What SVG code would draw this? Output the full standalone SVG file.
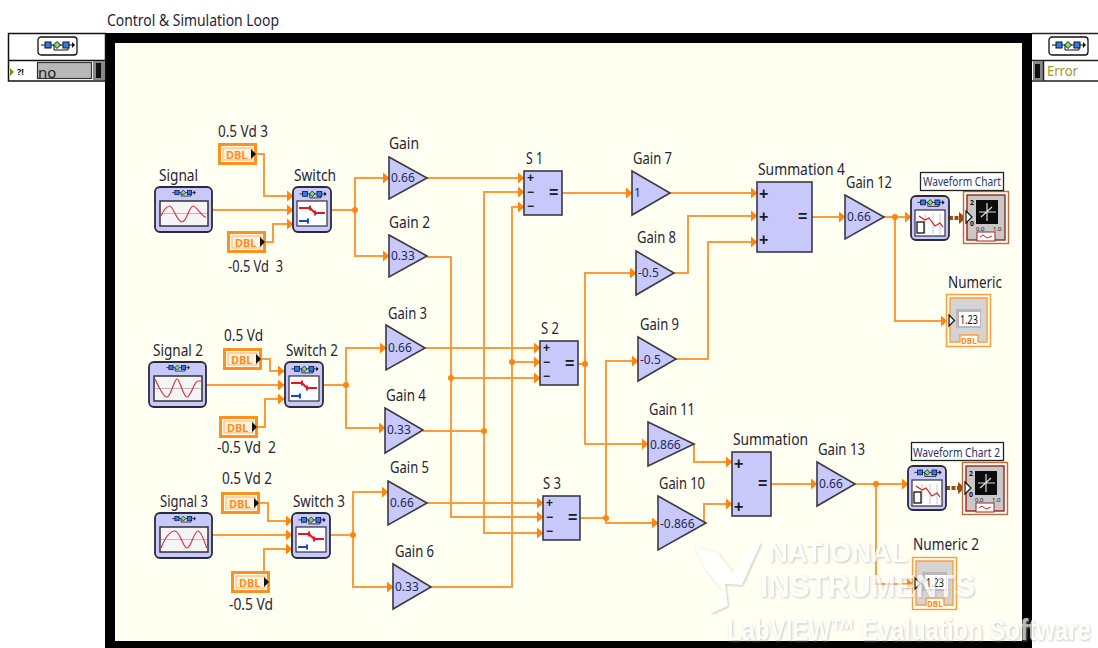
<svg xmlns="http://www.w3.org/2000/svg" width="1098" height="648" viewBox="0 0 1098 648">
<style>
text{font-family:"Noto Sans","Open Sans","DejaVu Sans",sans-serif;}
.l{font-size:16px;fill:#1f2438;}
.v{font-size:12px;fill:#1d2a55;}
.w{fill:none;stroke:#ff9a3c;stroke-width:2;}
.b{fill:none;stroke:#9c4a10;stroke-width:4;stroke-dasharray:4 1.500;}
.j{fill:#ff8410;}
.g{fill:#c8c8fa;stroke:#3a3a44;stroke-width:1.6;}
text.op{font-family:"Liberation Sans",Arial,sans-serif;font-size:12px;font-weight:700;fill:#1a1a1a;}
text.op2{font-family:"Liberation Sans",Arial,sans-serif;font-size:16px;font-weight:700;fill:#1a1a1a;}
.d{font-size:11px;font-weight:700;fill:#ff8c20;}
text.wm,.wm{font-family:"Liberation Sans",Arial,sans-serif;fill:#fff;font-weight:700;filter:drop-shadow(1px 1px 1px #b4b4ac);}
</style>
<defs>
<marker id="a" markerUnits="userSpaceOnUse" markerWidth="7" markerHeight="12" refX="6.500" refY="6" orient="auto"><path d="M0 0L7 6L0 12z" fill="#ff8410"/></marker>
<marker id="ab" markerUnits="userSpaceOnUse" markerWidth="7" markerHeight="12" refX="6" refY="6" orient="auto"><path d="M0 0L7 6L0 12z" fill="#9c4a10"/></marker>
<g id="glyph">
<path d="M3 8H36M30 8V13H16V8" fill="none" stroke="#111" stroke-width="1"/>
<path d="M34 5L37 8L34 11z" fill="#111"/>
<rect x="7" y="5" width="6" height="6" fill="#2a7fe0" stroke="#113"/>
<path d="M19 4.500L22.500 8L19 11.500L15.500 8z" fill="#7ee06a" stroke="#113"/>
<rect x="25" y="5" width="6" height="6" fill="#2a7fe0" stroke="#113"/>
</g>
<g id="loop">
<rect x="0" y="0" width="39" height="18" rx="3" fill="#fff" stroke="#111" stroke-width="1.300"/>
<use href="#glyph"/>
</g>
<g id="sigframe">
<rect x="0" y="0" width="57" height="45" rx="5" fill="#c8c8fa" stroke="#2a2a3a" stroke-width="1.800"/>
<use href="#glyph" transform="translate(15 0) scale(.7)"/>
<rect x="5" y="14" width="48" height="25" fill="#f5f5f5" stroke="#333" stroke-width="1.500"/>
<path d="M6 26.500H52" stroke="#bbb" stroke-width="1"/>
</g>
<g id="switch">
<rect x="0" y="0" width="38" height="45" rx="5" fill="#c8c8fa" stroke="#2a2a3a" stroke-width="1.800"/>
<use href="#glyph" transform="translate(4 .5) scale(.8)"/>
<rect x="4" y="14" width="30" height="25" fill="#fff" stroke="#333" stroke-width="1.200"/>
<path d="M6 21H17L22 26H32M17 18.500V23.500M22 23.500V28.500" fill="none" stroke="#e8141c" stroke-width="2"/>
<path d="M6 34H15M15 31.500V36.500" fill="none" stroke="#1448d8" stroke-width="2"/>
</g>
<g id="dbl">
<rect x="1.500" y="1.500" width="36" height="19" fill="#fffdf0" stroke="#ff9020" stroke-width="3"/>
<rect x="5" y="5" width="29" height="12" fill="#fff3df" stroke="#ffb060" stroke-width="1"/>
<text class="d" x="8" y="15.500">DBL</text>
<path d="M33 6L38 11L33 16z" fill="#111"/>
</g>
<g id="block">
<rect x="0" y="0" width="38" height="44" rx="5" fill="#c8c8fa" stroke="#2a2a3a" stroke-width="1.800"/>
<use href="#glyph" transform="translate(4 0) scale(.8)"/>
<rect x="4" y="14" width="30" height="26" fill="#fff" stroke="#333" stroke-width="1.200"/>
<path d="M14 18V38M22 18V38M29 18V38" stroke="#bbb" stroke-width=".8"/>
<path d="M8 20L14 24L18 22L24 30L29 27L32 31" fill="none" stroke="#e8141c" stroke-width="1.200"/>
<rect x="6" y="26" width="7" height="11" fill="#fff" stroke="#111" stroke-width="1.300"/>
</g>
<g id="indicator">
<rect x=".5" y=".5" width="45" height="52" fill="#fffdf0" stroke="#b86a40" stroke-width="1.400"/>
<rect x="4" y="4" width="38" height="45" fill="#c8c8c8" stroke="#a02020" stroke-width="1.400"/>
<rect x="13" y="9" width="22" height="24" fill="#0c0c0c"/>
<path d="M16 21H33M24 12V30M18 26L29 16" stroke="#ddd" stroke-width="1.200" fill="none"/>
<rect x="14" y="41" width="18" height="9" fill="#fff" stroke="#a02020" stroke-width="1"/>
<path d="M17 46L20 44L24 47L29 45" fill="none" stroke="#d02020" stroke-width="1"/>
<text x="7" y="14" font-size="7" font-weight="700" fill="#111">2</text>
<text x="7" y="35" font-size="7" font-weight="700" fill="#111">0</text>
<text x="13" y="40" font-size="6" fill="#111">0.0</text>
<text x="30" y="40" font-size="6" fill="#111">1.0</text>
<path d="M3 20L9 26L3 32z" fill="#fff" stroke="#111" stroke-width="1.200"/>
</g>
<g id="numeric">
<rect x=".5" y=".5" width="44" height="52" fill="#fffdf0" stroke="#ff9a3c" stroke-width="1.400"/>
<path d="M4 4H41V48H32V41H14V48H4z" fill="#d4d4d4" stroke="#ff9a3c" stroke-width="1.400"/>
<rect x="10" y="15" width="25" height="19" fill="#b8b8b8"/>
<rect x="13" y="18" width="21" height="14" fill="#fff"/>
<text x="14" y="30" font-size="12" fill="#111" textLength="18" lengthAdjust="spacingAndGlyphs">1.23</text>
<text x="15" y="50" font-size="8" font-weight="700" fill="#ff8c20">DBL</text>
<path d="M3 21L8.500 26.500L3 32z" fill="#fff" stroke="#111" stroke-width="1.200"/>
</g>
</defs>
<rect width="1098" height="648" fill="#fff"/>
<g id="loop-frame">
<rect x="105" y="33" width="927" height="615" fill="#000"/>
<rect x="115" y="43" width="907" height="598" fill="#fffff2"/>
<text class="l" x="107" y="26" textLength="172" lengthAdjust="spacingAndGlyphs">Control &amp; Simulation Loop</text>
</g>
<g id="left-tab">
<rect x="8.500" y="33.500" width="97" height="47.500" fill="#fff" stroke="#111" stroke-width="1.500"/>
<path d="M8 60.500H105" stroke="#111" stroke-width="1.500"/>
<use href="#loop" x="38" y="37"/>
<path d="M10 68L14 72L10 76z" fill="#8c8c10"/>
<text x="17" y="75" font-size="9" font-weight="700" fill="#111">?!</text>
<rect x="37.500" y="62.500" width="54" height="16" fill="#b8b8b8" stroke="#333" stroke-width="1.200"/>
<text x="38" y="78" font-size="15" fill="#222">no</text>
<rect x="93" y="61" width="12" height="19" fill="#888"/>
<rect x="96" y="63" width="5" height="15" fill="#111"/>
</g>
<g id="right-tab">
<path d="M1032 33.500H1098M1032 60.500H1098M1032 81H1098" stroke="#222" stroke-width="1.500"/>
<use href="#loop" x="1049" y="37"/>
<rect x="1033" y="61" width="10" height="19" fill="#888"/>
<rect x="1035" y="64" width="5" height="14" fill="#111"/>
<path d="M1043.500 60V81" stroke="#222" stroke-width="1.500"/>
<text x="1047" y="76" font-size="15" fill="#9c9a30" textLength="31" lengthAdjust="spacingAndGlyphs">Error</text>
</g>
<g id="connectors">
<path class="w" marker-end="url(#a)" d="M212 210H293"/>
<path class="w" marker-end="url(#a)" d="M256 154H264V196H293"/>
<path class="w" marker-end="url(#a)" d="M265 242H273V224H293"/>
<path class="w" marker-end="url(#a)" d="M331 210H355V178H389"/>
<path class="w" marker-end="url(#a)" d="M355 210V256H389"/>
<path class="w" marker-end="url(#a)" d="M206 385H284"/>
<path class="w" marker-end="url(#a)" d="M262 359H270V371H284"/>
<path class="w" marker-end="url(#a)" d="M257 427H265V399H284"/>
<path class="w" marker-end="url(#a)" d="M323 385H346V348H386"/>
<path class="w" marker-end="url(#a)" d="M346 385V428H385"/>
<path class="w" marker-end="url(#a)" d="M212 535H292"/>
<path class="w" marker-end="url(#a)" d="M260 503H268V521H292"/>
<path class="w" marker-end="url(#a)" d="M264 571V549H292"/>
<path class="w" marker-end="url(#a)" d="M330 535H353V492H388"/>
<path class="w" marker-end="url(#a)" d="M353 535V587H393"/>
<path class="w" marker-end="url(#a)" d="M427 178H524"/>
<path class="w" marker-end="url(#a)" d="M427 257H451V517H543"/>
<path class="w" marker-end="url(#a)" d="M425 348H540"/>
<path class="w" marker-end="url(#a)" d="M451 378H540"/>
<path class="w" d="M423 431H484"/>
<path class="w" marker-end="url(#a)" d="M484 431V192H524"/>
<path class="w" marker-end="url(#a)" d="M484 431V533H543"/>
<path class="w" marker-end="url(#a)" d="M427 503H543"/>
<path class="w" marker-end="url(#a)" d="M431 587H512V207H524"/>
<path class="w" marker-end="url(#a)" d="M512 362H540"/>
<path class="w" marker-end="url(#a)" d="M562 193H632"/>
<path class="w" marker-end="url(#a)" d="M578 364H585V273H636"/>
<path class="w" marker-end="url(#a)" d="M585 364V444H648"/>
<path class="w" marker-end="url(#a)" d="M580 518H606V361H638"/>
<path class="w" marker-end="url(#a)" d="M606 518V523H658"/>
<path class="w" marker-end="url(#a)" d="M670 193H757"/>
<path class="w" marker-end="url(#a)" d="M674 273H688V216H757"/>
<path class="w" marker-end="url(#a)" d="M676 359H708V242H757"/>
<path class="w" marker-end="url(#a)" d="M694 444V462H732"/>
<path class="w" marker-end="url(#a)" d="M704 522V504H732"/>
<path class="w" marker-end="url(#a)" d="M812 217H845"/>
<path class="w" marker-end="url(#a)" d="M771 484H817"/>
<path class="w" marker-end="url(#a)" d="M884 217H911"/>
<path class="w" marker-end="url(#a)" d="M895 217V321H947"/>
<path class="w" marker-end="url(#a)" d="M855 484H908"/>
<path class="w" marker-end="url(#a)" d="M876 484V584H913"/>
<path class="b" marker-end="url(#ab)" d="M949 218H965"/>
<path class="b" marker-end="url(#ab)" d="M946 488H964"/>
<circle class="j" cx="355" cy="210" r="3"/>
<circle class="j" cx="346" cy="385" r="3"/>
<circle class="j" cx="353" cy="535" r="3"/>
<circle class="j" cx="451" cy="378" r="3"/>
<circle class="j" cx="484" cy="431" r="3"/>
<circle class="j" cx="512" cy="362" r="3"/>
<circle class="j" cx="585" cy="364" r="3"/>
<circle class="j" cx="606" cy="518" r="3"/>
<circle class="j" cx="895" cy="217" r="3"/>
<circle class="j" cx="876" cy="484" r="3"/>
</g>
<g id="signal"><use href="#sigframe" x="155" y="187"/><path d="M161 216C164 209 167 206 170 206S177 222 182 222S189 206 193 206S202 218 206 217" fill="none" stroke="#e03040" stroke-width="1.200"/><text class="l" x="159" y="181" textLength="39" lengthAdjust="spacingAndGlyphs">Signal</text></g>
<g id="signal-2"><use href="#sigframe" x="149" y="362"/><path d="M155 379C158 385 163 397 167 397S174 379 177 379S183 397 187 397S194 381 198 381H201" fill="none" stroke="#e03040" stroke-width="1.200"/><text class="l" x="153" y="356" textLength="50" lengthAdjust="spacingAndGlyphs">Signal 2</text></g>
<g id="signal-3"><use href="#sigframe" x="155" y="513"/><path d="M161 548C165 538 170 531 175 531S183 548 187 548S194 531 198 531S205 545 207 548" fill="none" stroke="#e03040" stroke-width="1.200"/><text class="l" x="160" y="507" textLength="48" lengthAdjust="spacingAndGlyphs">Signal 3</text></g>
<g id="switch-1"><use href="#switch" x="293" y="187"/><text class="l" x="294" y="181" textLength="42" lengthAdjust="spacingAndGlyphs">Switch</text></g>
<g id="switch-2"><use href="#switch" x="285" y="362"/><text class="l" x="286" y="356" textLength="52" lengthAdjust="spacingAndGlyphs">Switch 2</text></g>
<g id="switch-3"><use href="#switch" x="292" y="513"/><text class="l" x="293" y="507" textLength="52" lengthAdjust="spacingAndGlyphs">Switch 3</text></g>
<g id="vd3"><use href="#dbl" x="218" y="143"/><text class="l" x="218" y="137" textLength="50" lengthAdjust="spacingAndGlyphs">0.5 Vd 3</text></g>
<g id="nvd3"><use href="#dbl" x="227" y="231"/><text class="l" x="228" y="272" textLength="55" lengthAdjust="spacingAndGlyphs" xml:space="preserve">-0.5 Vd  3</text></g>
<g id="vd1"><use href="#dbl" x="223" y="348"/><text class="l" x="224" y="341" textLength="39" lengthAdjust="spacingAndGlyphs">0.5 Vd</text></g>
<g id="nvd2"><use href="#dbl" x="219" y="416"/><text class="l" x="217" y="453" textLength="59" lengthAdjust="spacingAndGlyphs" xml:space="preserve">-0.5 Vd  2</text></g>
<g id="vd2"><use href="#dbl" x="221" y="492"/><text class="l" x="222" y="484" textLength="50" lengthAdjust="spacingAndGlyphs">0.5 Vd 2</text></g>
<g id="nvd1"><use href="#dbl" x="231" y="571"/><text class="l" x="229" y="610" textLength="44" lengthAdjust="spacingAndGlyphs">-0.5 Vd</text></g>
<g id="gain"><polygon class="g" points="389,157 427,178 389,199"/><text class="v" x="391" y="182">0.66</text><text class="l" x="389" y="149" textLength="30" lengthAdjust="spacingAndGlyphs">Gain</text></g>
<g id="gain-2"><polygon class="g" points="389,235 427,256 389,277"/><text class="v" x="391" y="260">0.33</text><text class="l" x="389" y="228" textLength="41" lengthAdjust="spacingAndGlyphs">Gain 2</text></g>
<g id="gain-3"><polygon class="g" points="386,325 425,348 386,370"/><text class="v" x="388" y="352">0.66</text><text class="l" x="388" y="319" textLength="39" lengthAdjust="spacingAndGlyphs">Gain 3</text></g>
<g id="gain-4"><polygon class="g" points="385,408 423,430 385,453"/><text class="v" x="387" y="434">0.33</text><text class="l" x="386" y="401" textLength="40" lengthAdjust="spacingAndGlyphs">Gain 4</text></g>
<g id="gain-5"><polygon class="g" points="388,481 427,503 388,525"/><text class="v" x="390" y="507">0.66</text><text class="l" x="390" y="473" textLength="39" lengthAdjust="spacingAndGlyphs">Gain 5</text></g>
<g id="gain-6"><polygon class="g" points="393,564 431,587 393,609"/><text class="v" x="395" y="591">0.33</text><text class="l" x="395" y="557" textLength="39" lengthAdjust="spacingAndGlyphs">Gain 6</text></g>
<g id="gain-7"><polygon class="g" points="632,171 670,193 632,215"/><text class="v" x="634" y="197">1</text><text class="l" x="633" y="164" textLength="39" lengthAdjust="spacingAndGlyphs">Gain 7</text></g>
<g id="gain-8"><polygon class="g" points="636,251 674,273 636,295"/><text class="v" x="638" y="277">-0.5</text><text class="l" x="637" y="243" textLength="39" lengthAdjust="spacingAndGlyphs">Gain 8</text></g>
<g id="gain-9"><polygon class="g" points="638,337 676,359 638,381"/><text class="v" x="640" y="364">-0.5</text><text class="l" x="640" y="330" textLength="39" lengthAdjust="spacingAndGlyphs">Gain 9</text></g>
<g id="gain-11"><polygon class="g" points="648,422 694,444 648,466"/><text class="v" x="650" y="449">0.866</text><text class="l" x="649" y="415" textLength="46" lengthAdjust="spacingAndGlyphs">Gain 11</text></g>
<g id="gain-10"><polygon class="g" points="658,496 706,523 658,550"/><text class="v" x="660" y="528">-0.866</text><text class="l" x="659" y="489" textLength="46" lengthAdjust="spacingAndGlyphs">Gain 10</text></g>
<g id="gain-12"><polygon class="g" points="845,195 884,217 845,239"/><text class="v" x="847" y="221">0.66</text><text class="l" x="846" y="188" textLength="46" lengthAdjust="spacingAndGlyphs">Gain 12</text></g>
<g id="gain-13"><polygon class="g" points="817,462 855,484 817,506"/><text class="v" x="819" y="488">0.66</text><text class="l" x="818" y="455" textLength="47" lengthAdjust="spacingAndGlyphs">Gain 13</text></g>
<g id="s1"><rect class="g" x="524" y="171" width="38" height="44"/><text class="op" x="527" y="182">+</text><text class="op" x="527" y="196">−</text><text class="op" x="527" y="210">−</text><text class="op2" x="549" y="198">=</text><text class="l" x="526" y="164" textLength="17" lengthAdjust="spacingAndGlyphs">S 1</text></g>
<g id="s2"><rect class="g" x="540" y="341" width="38" height="44"/><text class="op" x="543" y="352">+</text><text class="op" x="543" y="366">−</text><text class="op" x="543" y="380">−</text><text class="op2" x="565" y="369">=</text><text class="l" x="541" y="334" textLength="18" lengthAdjust="spacingAndGlyphs">S 2</text></g>
<g id="s3"><rect class="g" x="543" y="496" width="37" height="44"/><text class="op" x="546" y="507">+</text><text class="op" x="546" y="521">−</text><text class="op" x="546" y="535">−</text><text class="op2" x="568" y="523">=</text><text class="l" x="543" y="489" textLength="18" lengthAdjust="spacingAndGlyphs">S 3</text></g>
<g id="summation-4"><rect class="g" x="757" y="182" width="55" height="70"/><text class="op2" x="759" y="199">+</text><text class="op2" x="759" y="222">+</text><text class="op2" x="759" y="245">+</text><text class="op2" x="798" y="222">=</text><text class="l" x="758" y="175" textLength="87" lengthAdjust="spacingAndGlyphs">Summation 4</text></g>
<g id="summation"><rect class="g" x="732" y="452" width="39" height="64"/><text class="op2" x="734" y="469">+</text><text class="op2" x="734" y="512">+</text><text class="op2" x="758" y="489">=</text><text class="l" x="733" y="445" textLength="75" lengthAdjust="spacingAndGlyphs">Summation</text></g>
<g id="chart-block"><use href="#block" x="911" y="196"/></g>
<g id="waveform-chart"><use href="#indicator" x="963" y="191"/><rect x="920.500" y="172.500" width="83" height="18" fill="#fff" stroke="#222" stroke-width="1.300"/><text x="923" y="186" font-size="12" fill="#2a3468" textLength="78" lengthAdjust="spacingAndGlyphs">Waveform Chart</text></g>
<g id="numeric-1"><use href="#numeric" x="946" y="294"/><text class="l" x="948" y="288" textLength="54" lengthAdjust="spacingAndGlyphs">Numeric</text></g>
<g id="chart-block-2"><use href="#block" x="908" y="466"/></g>
<g id="waveform-chart-2"><use href="#indicator" x="962" y="462"/><rect x="911.500" y="442.500" width="92" height="18" fill="#fff" stroke="#222" stroke-width="1.300"/><text x="913" y="457" font-size="12" fill="#2a3468" textLength="87" lengthAdjust="spacingAndGlyphs">Waveform Chart 2</text></g>
<g id="numeric-2"><use href="#numeric" x="912" y="557"/><text class="l" x="913" y="550" textLength="66" lengthAdjust="spacingAndGlyphs">Numeric 2</text></g>
<g id="watermark" opacity=".72">
<path class="wm" d="M694 546L718 553L733 572L754 541L761 543L742 585L725 584L728 606L710 614L722 590L706 570z"/>
<text class="wm" x="768" y="562" font-size="27" textLength="140" lengthAdjust="spacingAndGlyphs">NATIONAL</text>
<text class="wm" x="760" y="597" font-size="31" textLength="215" lengthAdjust="spacingAndGlyphs">INSTRUMENTS</text>
<text class="wm" transform="translate(727 640) scale(.85 1)" font-size="30" textLength="428" lengthAdjust="spacingAndGlyphs">LabVIEW™ Evaluation Software</text>
</g>
</svg>
